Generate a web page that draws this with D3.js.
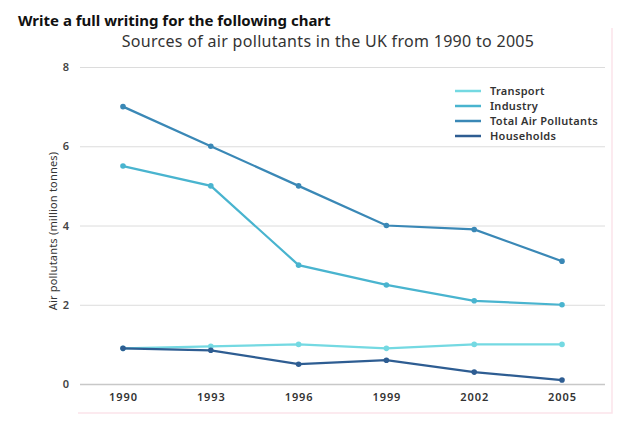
<!DOCTYPE html>
<html>
<head>
<meta charset="utf-8">
<script src="https://cdn.jsdelivr.net/npm/d3@7.9.0/dist/d3.min.js"></script>
<style>
  body { margin: 0; background: #fff; }
  svg { font-family: 'Noto Sans', sans-serif; }
</style>
</head>
<body>
<svg width="625" height="427"></svg>
<script>
const years = [1990, 1993, 1996, 1999, 2002, 2005];
const seriesNames = ['Transport', 'Industry', 'Total Air Pollutants', 'Households'];
const transport = [0.9, 0.95, 1.0, 0.9, 1.0, 1.0];
const industry = [5.5, 5.0, 3.0, 2.5, 2.1, 2.0];
const total = [7.0, 6.0, 5.0, 4.0, 3.9, 3.1];
const households = [0.9, 0.85, 0.5, 0.6, 0.3, 0.1];
const yTicks = [0, 2, 4, 6, 8];

const colors = ['#74d9e2', '#49b4cf', '#3a88b6', '#2e5d92'];
const seriesValues = [transport, industry, total, households];

const svg = d3.select('svg');

// outer faint frame
svg.append('path')
  .attr('d', 'M612,28 V413 H78')
  .attr('fill', 'none')
  .attr('stroke', '#fbe3ea')
  .attr('stroke-width', 1.5);

svg.append('text')
  .attr('x', 18).attr('y', 26)
  .attr('font-size', 15).attr('font-weight', 700)
  .attr('fill', '#111')
  .text('Write a full writing for the following chart');

svg.append('text')
  .attr('x', 328).attr('y', 47)
  .attr('text-anchor', 'middle')
  .attr('font-size', 16).attr('letter-spacing', 0.3).attr('fill', '#333')
  .text('Sources of air pollutants in the UK from 1990 to 2005');

const x = d3.scalePoint().domain(years).range([123, 562]);
const y = d3.scaleLinear().domain([0, 8]).range([384, 67]);

// grid
const yAxis = d3.axisLeft(y).tickValues(yTicks).tickSize(-525).tickPadding(11);
const gy = svg.append('g').attr('transform', 'translate(80,0)').call(yAxis);
gy.select('.domain').remove();
gy.selectAll('.tick line').attr('stroke', '#dcdcdc');
gy.selectAll('.tick').filter(d => d === 0).select('line').attr('stroke', '#c8c8c8').attr('stroke-width', 1.3);
gy.selectAll('.tick text')
  .attr('font-size', 11).attr('font-weight', 600).attr('fill', '#444')
  .attr('font-family', 'Noto Sans, sans-serif');

const xAxis = d3.axisBottom(x).tickSize(0).tickPadding(9);
const gx = svg.append('g').attr('transform', 'translate(0,384)').call(xAxis);
gx.select('.domain').remove();
gx.selectAll('.tick text')
  .attr('font-size', 11).attr('font-weight', 600).attr('letter-spacing', 0.9).attr('fill', '#333')
  .attr('font-family', 'Noto Sans, sans-serif');

svg.append('text')
  .attr('transform', 'translate(57,231) rotate(-90)')
  .attr('text-anchor', 'middle')
  .attr('font-size', 11).attr('letter-spacing', 0.2).attr('fill', '#333')
  .text('Air pollutants (million tonnes)');

const line = d3.line().x((d, i) => x(years[i])).y(d => y(d));

// draw back to front so households and transport sit on top
[2, 1, 0, 3].forEach(k => {
  svg.append('path')
    .attr('d', line(seriesValues[k]))
    .attr('fill', 'none')
    .attr('stroke', colors[k])
    .attr('stroke-width', 2.2);
  svg.selectAll(null)
    .data(seriesValues[k])
    .enter().append('circle')
    .attr('cx', (d, i) => x(years[i]))
    .attr('cy', d => y(d))
    .attr('r', 2.8)
    .attr('fill', colors[k]);
});

// legend
const legend = svg.append('g').attr('transform', 'translate(455,91)');
seriesNames.forEach((name, i) => {
  const row = legend.append('g').attr('transform', `translate(0,${i * 15})`);
  row.append('line')
    .attr('x1', 0).attr('x2', 26).attr('y1', 0).attr('y2', 0)
    .attr('stroke', colors[i]).attr('stroke-width', 2.5);
  row.append('text')
    .attr('x', 35).attr('y', 4)
    .attr('font-size', 11).attr('font-weight', 600).attr('letter-spacing', 0.3).attr('fill', '#333')
    .text(name);
});
</script>
</body>
</html>
